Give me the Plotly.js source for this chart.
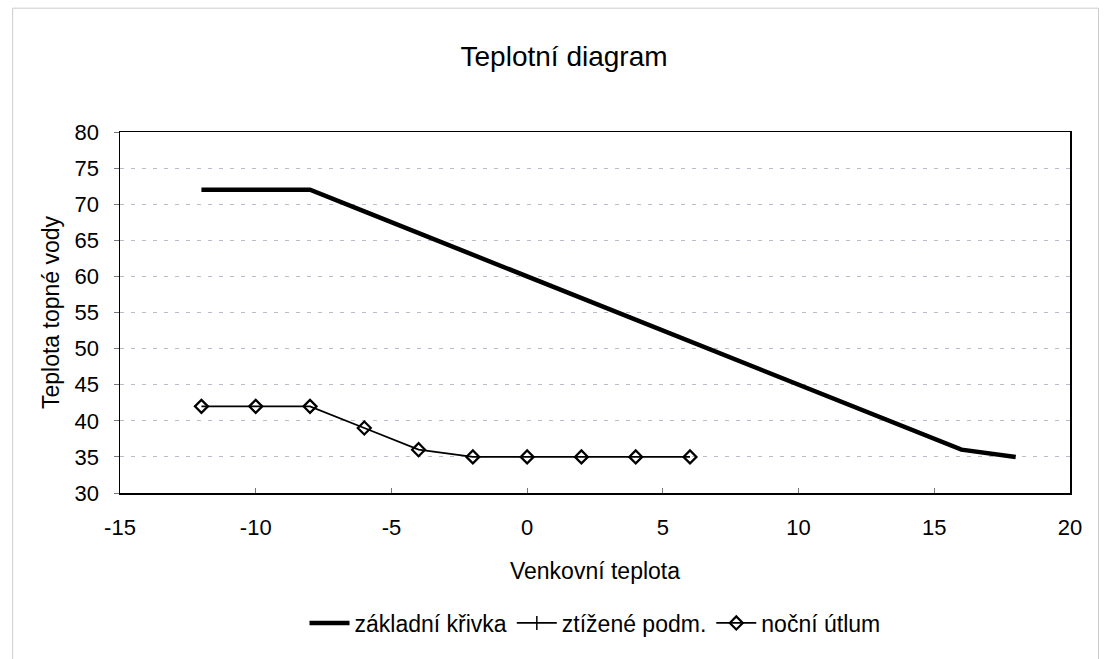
<!DOCTYPE html>
<html><head><meta charset="utf-8">
<script src="https://cdn.plot.ly/plotly-3.0.1.min.js"></script>
<style>body{margin:0;background:#fff}#c{width:1106px;height:659px}</style>
</head><body><div id="c"></div>
<script>
const xBase = [-12,-10,-8,-6,-4,-2,0,2,4,6,8,10,12,14,16,18];
const yBase = [72,72,72,69,66,63,60,57,54,51,48,45,42,39,36,35];
const xHard = [null];
const yHard = [null];
const xNight = [-12,-10,-8,-6,-4,-2,0,2,4,6];
const yNight = [42,42,42,39,36,35,35,35,35,35];
const yTicks = [30,35,40,45,50,55,60,65,70,75,80];
const xTicks = [-15,-10,-5,0,5,10,15,20];

const font = {family:'"Liberation Sans", Arial, sans-serif', color:'#000'};
const F = s => Object.assign({size:s}, font);
const traces = [
 {x:xBase, y:yBase, mode:'lines', name:'základní křivka', line:{color:'#000', width:4.5}},
 {x:xHard, y:yHard, mode:'lines+markers', name:'ztížené podm.', line:{color:'#000', width:1.8}, marker:{symbol:'line-ns-open', size:10, color:'#000', line:{color:'#000', width:1.5}}},
 {x:xNight, y:yNight, mode:'lines+markers', name:'noční útlum', line:{color:'#000', width:1.8}, marker:{symbol:'diamond-open', size:10, color:'#000', line:{color:'#000', width:2.2}}}
];
const layout = {
 width:1106, height:659,
 margin:{l:120, r:36, t:132, b:166},
 paper_bgcolor:'#fff', plot_bgcolor:'#fff',
 font:F(23),
 title:{text:'Teplotní diagram', font:F(28), xref:'container', x:0.51, xanchor:'center', y:0.915, yanchor:'middle'},
 xaxis:{range:[-15,20], tickvals:xTicks, ticktext:xTicks.map(String), showgrid:false, zeroline:false,
   showline:true, linecolor:'#000', linewidth:1.5, mirror:true, ticks:'inside', ticklen:5, tickcolor:'#777',
   tickfont:F(22), ticklabelstandoff:14,
   title:{text:'Venkovní teplota', font:F(23), standoff:24}},
 yaxis:{range:[30,80], tickvals:yTicks, ticktext:yTicks.map(String), showgrid:true, gridcolor:'#b8bccc', griddash:'4px,7px', gridwidth:1,
   zeroline:false, showline:true, linecolor:'#000', linewidth:1.5, mirror:true, ticks:'outside', ticklen:5, tickcolor:'#777',
   tickfont:F(22), ticklabelstandoff:10,
   title:{text:'Teplota topné vody', font:F(23), standoff:8}},
 showlegend:true,
 legend:{orientation:'h', x:0.5, xanchor:'center', y:-0.36, yanchor:'middle', font:F(23), itemwidth:40, tracegroupgap:0},
 shapes:[{type:'rect', xref:'paper', yref:'paper', x0:-0.113, x1:1.03, y0:-0.485, y1:1.343, line:{color:'#ccc', width:1}}]
};
Plotly.newPlot('c', traces, layout, {displayModeBar:false, staticPlot:true});
</script></body></html>
